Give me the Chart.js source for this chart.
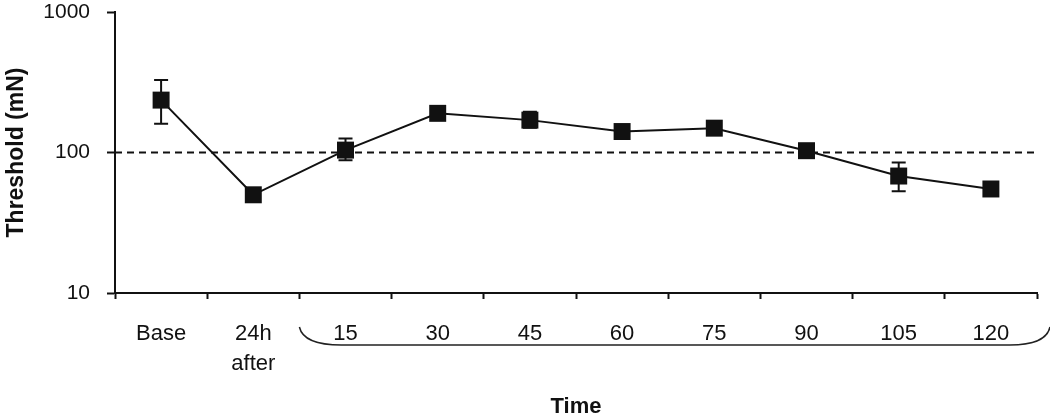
<!DOCTYPE html>
<html>
<head>
<meta charset="utf-8">
<script src="https://cdn.jsdelivr.net/npm/chart.js@4/dist/chart.umd.min.js"></script>
<style>
    html, body { margin: 0; padding: 0; background: #fff; }
    #wrap { width: 1050px; height: 414px; position: relative; }
</style>
</head>
<body>
<div id="wrap"><canvas id="chart"></canvas></div>
<script>
// values (log scale)
const timeLabels = ['Base', ['24h', 'after'], '15', '30', '45', '60', '75', '90', '105', '120'];
const thresholdMean = [236, 50, 104, 190, 170, 141, 149, 103, 68, 55];
const errorHigh = [328, 52, 126, 198, 195, 146, 154, 107, 85, 57];
const errorLow = [160, 48, 88, 182, 150, 136, 144, 99, 53, 53];
const yTicks = [10, 100, 1000];
const referenceLevel = 100;

const ink = '#111';
const fontFamily = '"Liberation Sans", Arial, sans-serif';

/**
 * Draws the dashed 100 mN line, the error bars and the bracket under the time labels.
 */
const overlayPlugin = {
    id: 'overlay',
    beforeDatasetsDraw(chart) {
        const ctx = chart.ctx;
        const area = chart.chartArea;
        const x = chart.scales.x;
        const y = chart.scales.y;

        ctx.save();
        ctx.strokeStyle = ink;
        ctx.lineWidth = 2;
        ctx.setLineDash([7, 5]);
        let yRef = y.getPixelForValue(referenceLevel);
        ctx.beginPath();
        ctx.moveTo(area.left, yRef);
        ctx.lineTo(area.right, yRef);
        ctx.stroke();
        ctx.setLineDash([]);

        for (let i = 0; i < thresholdMean.length; i++) {
            let px = x.getPixelForValue(i);
            let top = y.getPixelForValue(errorHigh[i]);
            let bottom = y.getPixelForValue(errorLow[i]);
            ctx.beginPath();
            ctx.moveTo(px, top);
            ctx.lineTo(px, bottom);
            ctx.moveTo(px - 7, top);
            ctx.lineTo(px + 7, top);
            ctx.moveTo(px - 7, bottom);
            ctx.lineTo(px + 7, bottom);
            ctx.stroke();
        }
        ctx.restore();
    },
    afterDraw(chart) {
        const ctx = chart.ctx;
        const area = chart.chartArea;
        const x = chart.scales.x;

        let startX = (x.getPixelForValue(1) + x.getPixelForValue(2)) / 2;
        let startY = area.bottom + 34;
        let lineY = area.bottom + 52;
        let endX = chart.width;

        ctx.save();
        ctx.strokeStyle = '#222';
        ctx.lineWidth = 1.5;
        ctx.beginPath();
        ctx.moveTo(startX, startY);
        ctx.quadraticCurveTo(startX + 4, lineY, startX + 42, lineY);
        ctx.lineTo(endX - 40, lineY);
        ctx.quadraticCurveTo(endX - 4, lineY, endX, startY);
        ctx.stroke();
        ctx.restore();
    }
};

window.onload = function() {
    new Chart(document.getElementById('chart'), {
        type: 'line',
        data: {
            labels: timeLabels,
            datasets: [{
                data: thresholdMean,
                borderColor: ink,
                borderWidth: 2,
                backgroundColor: ink,
                pointStyle: 'rect',
                pointRadius: 12,
                pointHoverRadius: 12,
                pointBorderWidth: 0,
                tension: 0,
                clip: false
            }]
        },
        options: {
            responsive: true,
            maintainAspectRatio: false,
            animation: false,
            layout: { padding: { top: 11, right: 13, left: 0, bottom: 0 } },
            plugins: {
                legend: { display: false },
                tooltip: { enabled: false }
            },
            scales: {
                x: {
                    type: 'category',
                    offset: true,
                    grid: { offset: true, drawOnChartArea: false, tickLength: 6, tickWidth: 2, tickColor: ink },
                    border: { color: ink, width: 2 },
                    ticks: {
                        color: ink,
                        padding: 20,
                        maxRotation: 0,
                        autoSkip: false,
                        font: { family: fontFamily, size: 22, lineHeight: 1.36 }
                    },
                    title: {
                        display: true,
                        text: 'Time',
                        color: ink,
                        padding: { top: 0, bottom: -4 },
                        font: { family: fontFamily, size: 22, weight: 'bold', lineHeight: 1 }
                    },
                    afterFit: function(scale) {
                        scale.height = 121;
                        scale.paddingLeft = 0;
                        scale.paddingRight = 0;
                    }
                },
                y: {
                    type: 'logarithmic',
                    min: 10,
                    max: 1000,
                    grid: { drawOnChartArea: false, tickLength: 8, tickWidth: 2, tickColor: ink },
                    border: { color: ink, width: 2 },
                    afterBuildTicks: function(scale) {
                        scale.ticks = yTicks.map(v => ({ value: v }));
                    },
                    ticks: {
                        color: ink,
                        padding: 17,
                        font: { family: fontFamily, size: 21 },
                        callback: function(value) { return String(value); }
                    },
                    title: {
                        display: true,
                        text: 'Threshold (mN)',
                        color: ink,
                        padding: { top: 3, bottom: 0 },
                        font: { family: fontFamily, size: 23, weight: 'bold', lineHeight: 1.2 }
                    },
                    afterFit: function(scale) {
                        scale.width = 115;
                        scale.paddingTop = 0;
                        scale.paddingBottom = 0;
                    }
                }
            }
        },
        plugins: [overlayPlugin]
    });
};
</script>
</body>
</html>
